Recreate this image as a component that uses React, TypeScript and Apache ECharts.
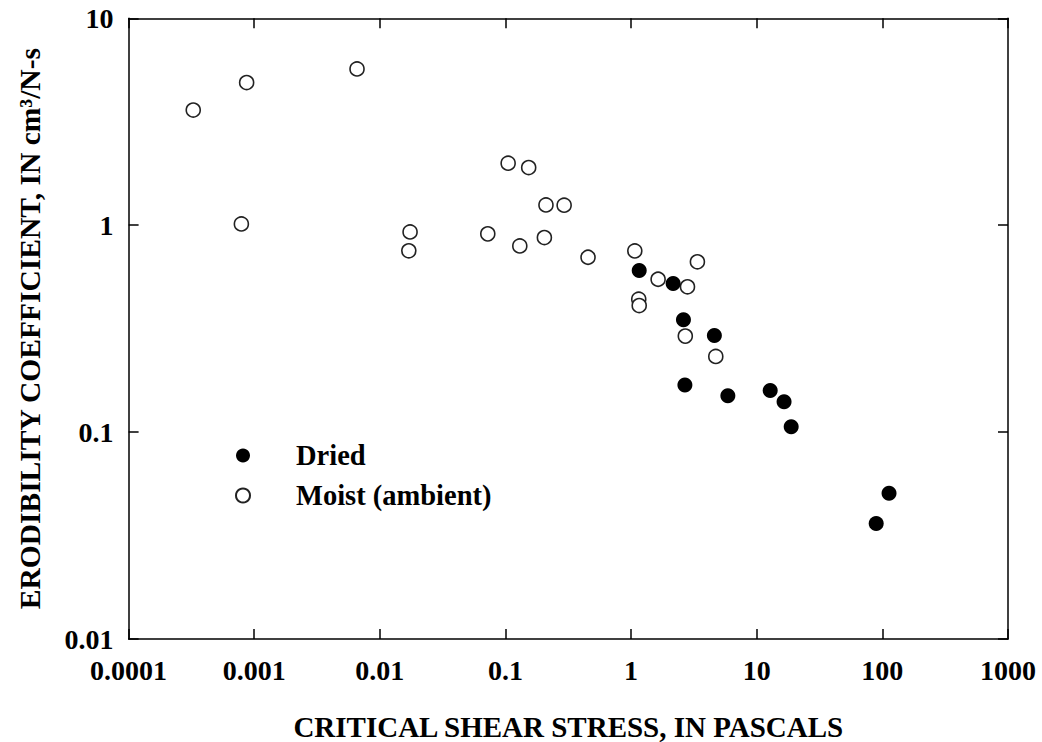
import React, { useEffect, useRef } from "react";
import * as echarts from "echarts";

const driedX = [1.16, 2.16, 2.61, 4.6, 2.68, 5.89, 12.8, 16.5, 18.8, 113, 89.3];
const driedY = [0.604, 0.522, 0.349, 0.293, 0.169, 0.15, 0.159, 0.14, 0.106, 0.0507, 0.0362];

const moistX = [0.000327, 0.00087, 0.00079, 0.00658, 0.0174, 0.017, 0.105, 0.153, 0.21, 0.293, 0.0723, 0.13, 0.204, 0.454, 1.07, 1.15, 1.16, 1.64, 2.81, 3.37, 2.7, 4.72];
const moistY = [3.6, 4.89, 1.014, 5.69, 0.928, 0.752, 1.995, 1.9, 1.253, 1.25, 0.908, 0.794, 0.871, 0.7, 0.751, 0.439, 0.409, 0.548, 0.504, 0.665, 0.291, 0.232];

const xMin = 0.0001;
const xMax = 1000;
const yMin = 0.01;
const yMax = 10;

const seriesNames = ["Dried", "Moist (ambient)"];
const xTitle = "CRITICAL SHEAR STRESS, IN PASCALS";
const yTitle = "ERODIBILITY COEFFICIENT, IN cm\u00b3/N-s";

const FONT = "Liberation Serif";

function fmt(v: number): string {
  const e = Math.round(Math.log10(v));
  if (e < 0) return Math.pow(10, e).toFixed(-e);
  return String(Math.round(Math.pow(10, e)));
}

export default function App() {
  const ref = useRef<HTMLDivElement>(null);
  useEffect(() => {
    if (!ref.current) return;
    const chart = echarts.init(ref.current, undefined, { renderer: "svg" });
    const lineStyle = { color: "#000", width: 1.5 };
    const tick = { show: true, inside: true, length: 10, lineStyle };
    const labelStyle = {
      fontFamily: FONT,
      fontWeight: "bold" as const,
      fontSize: 28,
      color: "#000",
    };
    const option: any = {
      animation: false,
      backgroundColor: "#fff",
      grid: {
        left: 128.6,
        top: 18.3,
        right: 34,
        bottom: 103,
        containLabel: false,
        outerBoundsMode: "none",
      },
      legend: {
        data: seriesNames,
        orient: "vertical",
        left: 230,
        top: 436,
        itemWidth: 96,
        itemHeight: 14,
        itemGap: 11,
        icon: "circle",
        textStyle: { ...labelStyle, fontSize: 28.5, lineHeight: 26 },
      },
      xAxis: [
        {
          type: "log",
          logBase: 10,
          min: xMin,
          max: xMax,
          splitNumber: 7,
          axisLine: { show: true, lineStyle },
          axisTick: tick,
          minorTick: { show: false },
          splitLine: { show: false },
          axisLabel: { ...labelStyle, margin: 17, formatter: fmt },
          name: xTitle,
          nameLocation: "middle",
          nameGap: 74,
          nameTextStyle: { ...labelStyle, fontSize: 29, lineHeight: 28 },
        },
        {
          type: "log",
          logBase: 10,
          min: xMin,
          max: xMax,
          splitNumber: 7,
          position: "top",
          axisLine: { show: true, lineStyle },
          axisTick: tick,
          splitLine: { show: false },
          axisLabel: { show: false },
        },
      ],
      yAxis: [
        {
          type: "log",
          logBase: 10,
          min: yMin,
          max: yMax,
          splitNumber: 3,
          axisLine: { show: true, lineStyle },
          axisTick: tick,
          splitLine: { show: false },
          axisLabel: { ...labelStyle, margin: 15, formatter: fmt },
          name: yTitle,
          nameLocation: "middle",
          nameGap: 84,
          nameTextStyle: { ...labelStyle, fontSize: 29.5 },
        },
        {
          type: "log",
          logBase: 10,
          min: yMin,
          max: yMax,
          splitNumber: 3,
          position: "right",
          axisLine: { show: true, lineStyle },
          axisTick: tick,
          splitLine: { show: false },
          axisLabel: { show: false },
        },
      ],
      series: [
        {
          name: seriesNames[1],
          type: "scatter",
          symbol: "circle",
          symbolSize: 14,
          itemStyle: { color: "#fff", borderColor: "#222", borderWidth: 1.6, opacity: 1 },
          data: moistX.map((x, i) => [x, moistY[i]]),
          z: 2,
        },
        {
          name: seriesNames[0],
          type: "scatter",
          symbol: "circle",
          symbolSize: 15,
          itemStyle: { color: "#000", opacity: 1 },
          data: driedX.map((x, i) => [x, driedY[i]]),
          z: 3,
        },
      ],
    };
    chart.setOption(option);
    return () => chart.dispose();
  }, []);
  return (
    <div
      ref={ref}
      style={{ position: "absolute", left: 0, top: 0, width: 1042, height: 742, background: "#fff" }}
    />
  );
}
